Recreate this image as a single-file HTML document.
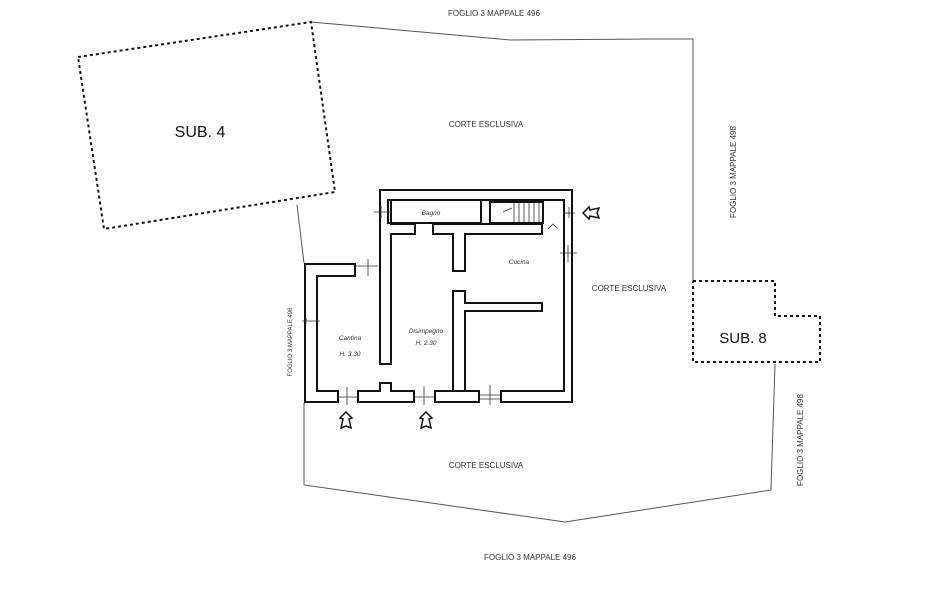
<!DOCTYPE html>
<html><head><meta charset="utf-8"><style>
html,body{margin:0;padding:0;background:#fff;}
svg{display:block;font-family:"Liberation Sans",sans-serif;}
</style></head><body>
<svg width="937" height="609" viewBox="0 0 937 609" xmlns="http://www.w3.org/2000/svg">
<rect width="937" height="609" fill="#fff"/>
<g fill="none" stroke="#555" stroke-width="1">
<polyline points="311,22 510,40 648,39 693,39 693,281"/>
<polyline points="297,205 304,263"/>
<polyline points="304,403 304,485 565,522 771,490 775,364"/>
</g>
<polygon points="78,57 311,22 335,192 104,229" fill="none" stroke="#111" stroke-width="2" stroke-dasharray="3,3"/>
<polyline points="693,281 775,281 775,316 820,316 820,362 693,362 693,281" fill="none" stroke="#111" stroke-width="2" stroke-dasharray="3,3"/>
<g fill="#111">
<rect x="304" y="263" width="14" height="140"/>
<rect x="304" y="263" width="52" height="14"/>
<rect x="304" y="390" width="35" height="13"/>
<rect x="357" y="390" width="58" height="13"/>
<rect x="379" y="382" width="13" height="10"/>
<rect x="434" y="390" width="46" height="13"/>
<rect x="500" y="390" width="73" height="13"/>
<rect x="379" y="189" width="194" height="12"/>
<rect x="379" y="189" width="13" height="176"/>
<rect x="379" y="340" width="8" height="15"/>
<rect x="563" y="189" width="10" height="214"/>
<rect x="388" y="223" width="28" height="12"/>
<rect x="432" y="223" width="111" height="12"/>
<rect x="452" y="223" width="14" height="49"/>
<rect x="452" y="290" width="14" height="102"/>
<rect x="452" y="302" width="91" height="10"/>
</g>
<g fill="#fff">
<rect x="306" y="265" width="10" height="136"/>
<rect x="306" y="265" width="48" height="10"/>
<rect x="306" y="392" width="31" height="9"/>
<rect x="359" y="392" width="54" height="9"/>
<rect x="381" y="384" width="9" height="10"/>
<rect x="436" y="392" width="42" height="9"/>
<rect x="502" y="392" width="69" height="9"/>
<rect x="381" y="191" width="190" height="8"/>
<rect x="381" y="191" width="9" height="172"/>
<rect x="381" y="342" width="6" height="11"/>
<rect x="565" y="191" width="6" height="210"/>
<rect x="390" y="225" width="24" height="8"/>
<rect x="434" y="225" width="107" height="8"/>
<rect x="454" y="225" width="10" height="45"/>
<rect x="454" y="292" width="10" height="98"/>
<rect x="454" y="304" width="87" height="6"/>
</g>
<rect x="388" y="200" width="93" height="23" fill="none" stroke="#111" stroke-width="2"/>
<rect x="490" y="202" width="53" height="21" fill="none" stroke="#111" stroke-width="2"/>
<g stroke="#333" stroke-width="0.8">
<line x1="514" y1="203" x2="514" y2="222"/><line x1="519" y1="203" x2="519" y2="222"/>
<line x1="524" y1="203" x2="524" y2="222"/><line x1="529" y1="203" x2="529" y2="222"/>
<line x1="534" y1="203" x2="534" y2="222"/><line x1="539" y1="203" x2="539" y2="222"/>
<line x1="503" y1="212" x2="512" y2="208"/>
</g>
<g stroke="#333" stroke-width="0.8" fill="none">
<line x1="374" y1="212" x2="392" y2="212"/><line x1="381" y1="206" x2="381" y2="218"/>
<line x1="356" y1="266" x2="378" y2="266"/><line x1="368" y1="259" x2="368" y2="276"/>
<line x1="302" y1="321" x2="320" y2="321"/><line x1="306" y1="318" x2="306" y2="324"/>
<line x1="339" y1="397" x2="357" y2="397"/><line x1="347" y1="387" x2="347" y2="405"/>
<line x1="415" y1="397" x2="434" y2="397"/><line x1="424" y1="386" x2="424" y2="405"/>
<line x1="480" y1="395" x2="500" y2="395"/><line x1="480" y1="399" x2="500" y2="399"/><line x1="490" y1="385" x2="490" y2="405"/>
<line x1="560" y1="253" x2="577" y2="253"/><line x1="568" y1="245" x2="568" y2="262"/>
<line x1="563" y1="213" x2="575" y2="213"/><line x1="569" y1="207" x2="569" y2="218"/>
<polyline points="548,229 553,224 558,229"/>
</g>
<g fill="none" stroke="#111" stroke-width="1.5">
<path d="M583,213 L589,207 L590,210 L599,208 L597,213 L599,218 L590,216 L589,219 Z"/>
<path d="M346,412 L340,418 L343,419 L341,428 L346,426 L351,428 L349,419 L352,418 Z"/>
<path d="M426,412 L420,418 L423,419 L421,428 L426,426 L431,428 L429,419 L432,418 Z"/>
</g>
<g fill="#333" font-size="8">
<text x="494" y="16" text-anchor="middle">FOGLIO 3 MAPPALE 496</text>
<text x="530" y="560" text-anchor="middle">FOGLIO 3 MAPPALE 496</text>
<text x="486" y="127" text-anchor="middle">CORTE ESCLUSIVA</text>
<text x="629" y="291" text-anchor="middle">CORTE ESCLUSIVA</text>
<text x="486" y="468" text-anchor="middle">CORTE ESCLUSIVA</text>
<text transform="translate(736,172) rotate(-90)" text-anchor="middle">FOGLIO 3 MAPPALE 498</text>
<text transform="translate(803,440) rotate(-90)" text-anchor="middle">FOGLIO 3 MAPPALE 498</text>
<text transform="translate(292,342) rotate(-90)" text-anchor="middle" font-size="6">FOGLIO 3 MAPPALE 496</text>
</g>
<g fill="#333" font-size="6.5" font-style="italic" text-anchor="middle">
<text x="431" y="215">Bagno</text>
<text x="519" y="264">Cucina</text>
<text x="350" y="340">Cantina</text>
<text x="350" y="356">H. 3.30</text>
<text x="426" y="333">Disimpegno</text>
<text x="426" y="345">H. 2.30</text>
</g>
<text x="200" y="137" font-size="16" text-anchor="middle" fill="#111">SUB. 4</text>
<text x="743" y="343" font-size="15" text-anchor="middle" fill="#111">SUB. 8</text>
</svg>
</body></html>
